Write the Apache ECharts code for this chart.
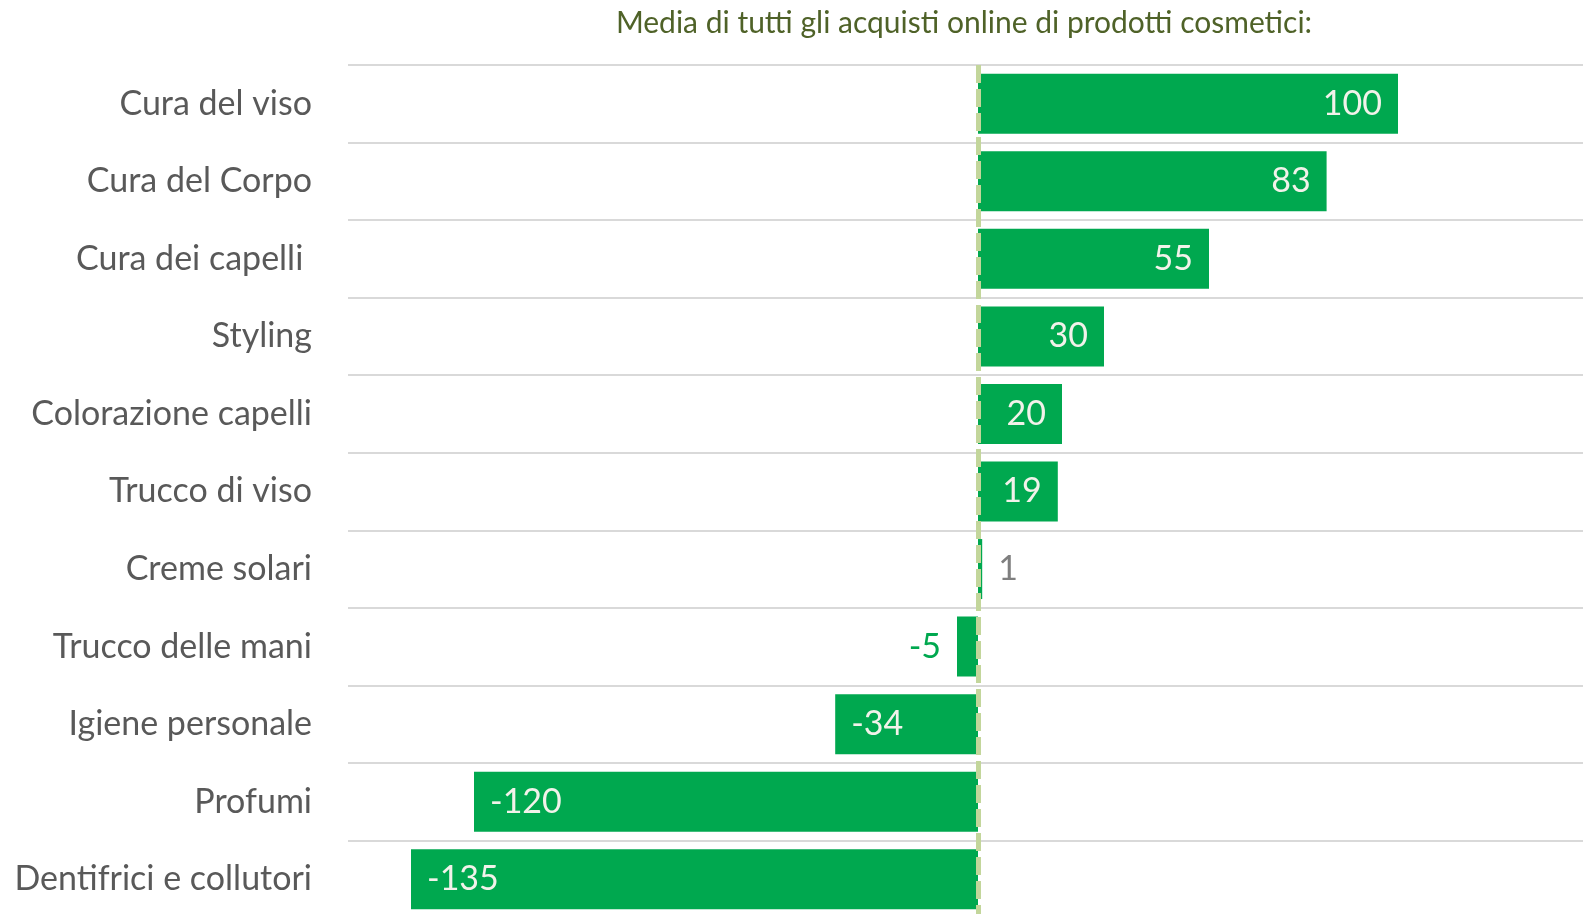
<!DOCTYPE html>
<html>
<head>
<meta charset="utf-8">
<script src="https://cdn.jsdelivr.net/npm/echarts@6/dist/echarts.min.js"></script>
<style>
html,body{margin:0;padding:0;background:#fff;}
#chart{width:1583px;height:914px;}
</style>
</head>
<body>
<div id="chart"></div>
<script>
const titleText = 'Media di tutti gli acquisti online di prodotti cosmetici:';
const categories = ['Cura del viso','Cura del Corpo','Cura dei capelli ','Styling','Colorazione capelli','Trucco di viso','Creme solari','Trucco delle mani','Igiene personale','Profumi','Dentifrici e collutori'];
const values = [100, 83, 55, 30, 20, 19, 1, -5, -34, -120, -135];
const axisMin = -150;
const axisMax = 150;

const FONT = 'Lato, "Open Sans", sans-serif';
const BAR = '#00a84f';

const seriesData = values.map(v => {
  const small = Math.abs(v) < 10;
  let pos, color;
  if (v >= 0) { pos = small ? 'right' : 'insideRight'; color = small ? '#7f7f7f' : '#f2f2ea'; }
  else { pos = small ? 'left' : 'insideLeft'; color = small ? '#00a84f' : '#f2f2ea'; }
  return { value: v, label: { position: pos, color: color } };
});

const chart = echarts.init(document.getElementById('chart'), null, {renderer: 'canvas'});
chart.setOption({
  animation: false,
  backgroundColor: '#ffffff',
  graphic: [{
    type: 'text', x: 964, y: 23,
    style: { text: titleText, fill: '#4f6228', font: '30px ' + FONT, textAlign: 'center', textVerticalAlign: 'middle' }
  }],
  grid: { left: 348, width: 1260, top: 65, height: 853, containLabel: false, outerBoundsMode: 'none' },
  xAxis: {
    type: 'value', min: axisMin, max: axisMax, show: false,
    splitLine: { show: false }
  },
  yAxis: {
    type: 'category', data: categories, inverse: true,
    axisLine: { show: false }, axisTick: { show: false },
    axisLabel: { interval: 0, color: '#595959', fontSize: 34, fontFamily: FONT, margin: 36 },
    splitLine: { show: true, interval: 0, lineStyle: { color: '#d9d9d9', width: 2 } }
  },
  series: [{
    type: 'bar', data: seriesData, barWidth: 60,
    itemStyle: { color: BAR },
    label: { show: true, fontSize: 34, fontFamily: FONT, distance: 16 },
    markLine: {
      silent: true, symbol: 'none', animation: false,
      label: { show: false },
      lineStyle: { color: '#c3d69b', width: 5, type: [18, 6] },
      data: [{ xAxis: 0 }]
    }
  }]
});
</script>
</body>
</html>
